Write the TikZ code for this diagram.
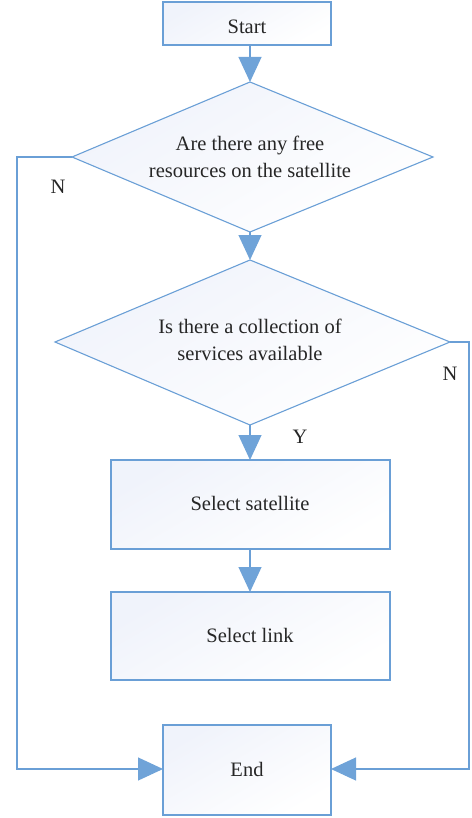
\documentclass[tikz,border=0pt]{standalone}
\usepackage{fontspec}
\setmainfont{Liberation Serif}
\usetikzlibrary{arrows.meta,shapes.geometric}
\definecolor{ln}{HTML}{6A9FD6}
\definecolor{af}{HTML}{6FA3D8}
\definecolor{bf}{HTML}{F0F3FB}
\tikzset{
  boxs/.style={draw=ln, line width=1.1pt, shading=axis, top color=bf, bottom color=white, shading angle=30},
  conn/.style={draw=ln, line width=1.1pt},
  arr/.style={conn, -{Triangle[length=25pt,width=23pt,fill=af,color=af]}},
  lab/.style={font=\fontsize{20.5}{27}\selectfont, inner sep=0pt, text=black!85}
}
\begin{document}
\begin{tikzpicture}[x=1pt,y=-1pt]
\useasboundingbox (0,0) rectangle (471,818);
% boxes
\path[boxs] (163,2) rectangle (331,45);
\node[lab] (start) at (247,27) {Start};
\coordinate (startb) at (250,45);
\path[boxs] (72,157) -- (250,82) -- (433,157) -- (250,232) -- cycle;
\coordinate (d1t) at (250,82);
\coordinate (d1b) at (250,232);
\coordinate (d1l) at (72,157);
\node[lab,align=center] (d1) at (250,157) {Are there any free\\resources on the satellite};
\path[boxs] (55,342) -- (250,260) -- (450,342) -- (250,425) -- cycle;
\coordinate (d2t) at (250,260);
\coordinate (d2b) at (250,425);
\coordinate (d2r) at (450,342);
\node[lab,align=center] (d2) at (250,340) {Is there a collection of\\services available};
\path[boxs] (111,460) rectangle (390,549);
\node[lab] (sel) at (250,503) {Select satellite};
\coordinate (selt) at (250,460);
\coordinate (selb) at (250,549);
\path[boxs] (111,592) rectangle (390,680);
\node[lab] (link) at (250,635) {Select link};
\coordinate (linkt) at (250,592);
\coordinate (linkb) at (250,680);
\path[boxs] (163,725) rectangle (331,815);
\node[lab] (endn) at (247,769) {End};
\coordinate (endl) at (163,769);
\coordinate (endr) at (331,769);
% connectors
\draw[arr] (startb) -- (d1t);
\draw[arr] (d1b) -- (d2t);
\draw[arr] (d2b) -- (selt);
\draw[arr] (selb) -- (linkt);
\draw[arr] (d1l) -- (17,157) -- (17,769) -- (endl);
\draw[arr] (d2r) -- (469,342) -- (469,769) -- (endr);
% labels
\node[lab] (n1) at (58,187) {N};
\node[lab] (n2) at (450,374) {N};
\node[lab] (y) at (300,437) {Y};
\end{tikzpicture}
\end{document}
